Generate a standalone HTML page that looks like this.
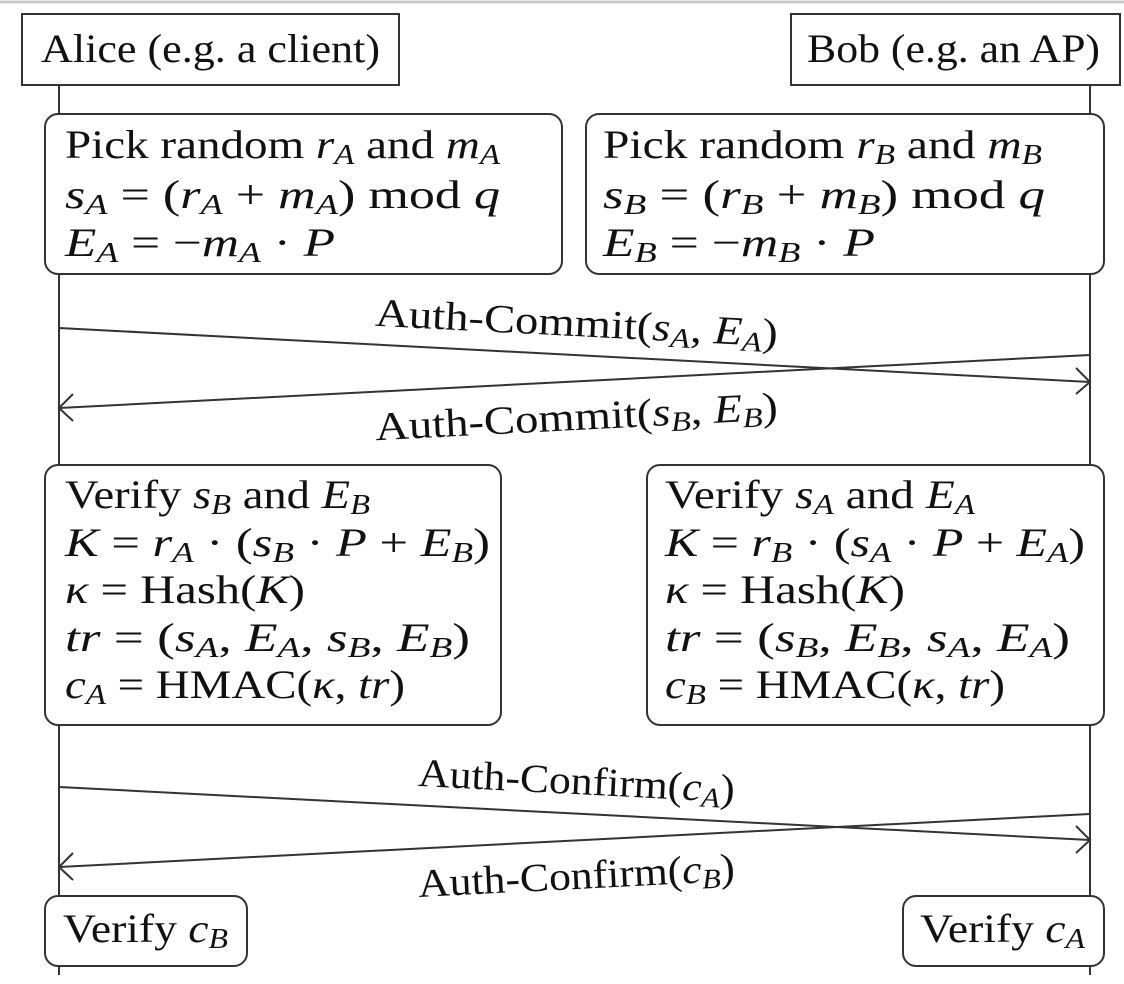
<!DOCTYPE html>
<html><head><meta charset="utf-8"><style>
html,body{margin:0;padding:0;background:#fff;width:1124px;height:984px;overflow:hidden}
svg{display:block}
text{font-family:"Liberation Serif",serif;font-size:40px;fill:#111}
.i{font-style:italic}
</style></head><body>
<svg width="1124" height="984" viewBox="0 0 1124 984">
<line x1="0" y1="2" x2="1124" y2="2" stroke="#ccc" stroke-width="3"/>
<g stroke="#333" stroke-width="2" fill="none">
<line x1="59" y1="85" x2="59" y2="975"/>
<line x1="1090" y1="85" x2="1090" y2="975"/>
</g>
<g stroke="#333" stroke-width="2" fill="#fff">
<rect x="22" y="14" width="377" height="71"/>
<rect x="791" y="14" width="329" height="71"/>
<rect x="45" y="114" width="517" height="160" rx="13"/>
<rect x="586" y="114" width="518" height="160" rx="13"/>
<rect x="45" y="465" width="456" height="260" rx="13"/>
<rect x="647" y="465" width="457" height="260" rx="13"/>
<rect x="45" y="896" width="202" height="70" rx="13"/>
<rect x="903" y="896" width="201" height="70" rx="13"/>
</g>
<text x="41" y="62" textLength="339" lengthAdjust="spacingAndGlyphs">Alice (e.g. a client)</text>
<text x="807" y="62" textLength="293" lengthAdjust="spacingAndGlyphs">Bob (e.g. an AP)</text>

<g>
<text x="65" y="158" textLength="435" lengthAdjust="spacingAndGlyphs">Pick random <tspan class="i">r</tspan><tspan class="i" font-size="28" dy="6">A</tspan><tspan dy="-6"> and </tspan><tspan class="i">m</tspan><tspan class="i" font-size="28" dy="6">A</tspan></text>
<text x="65" y="208" textLength="435" lengthAdjust="spacingAndGlyphs"><tspan class="i">s</tspan><tspan class="i" font-size="28" dy="6">A</tspan><tspan dy="-6"> = (</tspan><tspan class="i">r</tspan><tspan class="i" font-size="28" dy="6">A</tspan><tspan dy="-6"> + </tspan><tspan class="i">m</tspan><tspan class="i" font-size="28" dy="6">A</tspan><tspan dy="-6">) mod </tspan><tspan class="i">q</tspan></text>
<text x="65" y="256" textLength="270" lengthAdjust="spacingAndGlyphs"><tspan class="i">E</tspan><tspan class="i" font-size="28" dy="6">A</tspan><tspan dy="-6"> = −</tspan><tspan class="i">m</tspan><tspan class="i" font-size="28" dy="6">A</tspan><tspan dy="-6"> · </tspan><tspan class="i">P</tspan></text>
</g>
<g>
<text x="603" y="158" textLength="439" lengthAdjust="spacingAndGlyphs">Pick random <tspan class="i">r</tspan><tspan class="i" font-size="28" dy="6">B</tspan><tspan dy="-6"> and </tspan><tspan class="i">m</tspan><tspan class="i" font-size="28" dy="6">B</tspan></text>
<text x="603" y="208" textLength="442" lengthAdjust="spacingAndGlyphs"><tspan class="i">s</tspan><tspan class="i" font-size="28" dy="6">B</tspan><tspan dy="-6"> = (</tspan><tspan class="i">r</tspan><tspan class="i" font-size="28" dy="6">B</tspan><tspan dy="-6"> + </tspan><tspan class="i">m</tspan><tspan class="i" font-size="28" dy="6">B</tspan><tspan dy="-6">) mod </tspan><tspan class="i">q</tspan></text>
<text x="603" y="256" textLength="272" lengthAdjust="spacingAndGlyphs"><tspan class="i">E</tspan><tspan class="i" font-size="28" dy="6">B</tspan><tspan dy="-6"> = −</tspan><tspan class="i">m</tspan><tspan class="i" font-size="28" dy="6">B</tspan><tspan dy="-6"> · </tspan><tspan class="i">P</tspan></text>
</g>

<g stroke="#333" stroke-width="2" fill="none">
<line x1="59" y1="328" x2="1090" y2="382"/>
<polyline points="1076,368 1090,382 1076,394"/>
<line x1="1090" y1="355" x2="59" y2="408"/>
<polyline points="73,394 59,408 73,421"/>
<line x1="59" y1="787" x2="1090" y2="840"/>
<polyline points="1076,826 1090,840 1076,853"/>
<line x1="1090" y1="814" x2="59" y2="867"/>
<polyline points="73,853 59,867 73,880"/>
</g>
<text x="375" y="336" textLength="403" lengthAdjust="spacingAndGlyphs" transform="rotate(2.94 575 325)">Auth-Commit(<tspan class="i">s</tspan><tspan class="i" font-size="28" dy="6">A</tspan><tspan dy="-6">, </tspan><tspan class="i">E</tspan><tspan class="i" font-size="28" dy="6">A</tspan><tspan dy="-6">)</tspan></text>
<text x="375" y="430" textLength="403" lengthAdjust="spacingAndGlyphs" transform="rotate(-2.94 575 420)">Auth-Commit(<tspan class="i">s</tspan><tspan class="i" font-size="28" dy="6">B</tspan><tspan dy="-6">, </tspan><tspan class="i">E</tspan><tspan class="i" font-size="28" dy="6">B</tspan><tspan dy="-6">)</tspan></text>
<text x="418" y="794" textLength="317" lengthAdjust="spacingAndGlyphs" transform="rotate(2.94 575 783)">Auth-Confirm(<tspan class="i">c</tspan><tspan class="i" font-size="28" dy="6">A</tspan><tspan dy="-6">)</tspan></text>
<text x="418" y="889" textLength="317" lengthAdjust="spacingAndGlyphs" transform="rotate(-2.94 575 878)">Auth-Confirm(<tspan class="i">c</tspan><tspan class="i" font-size="28" dy="6">B</tspan><tspan dy="-6">)</tspan></text>

<g>
<text x="65" y="508" textLength="305" lengthAdjust="spacingAndGlyphs">Verify <tspan class="i">s</tspan><tspan class="i" font-size="28" dy="6">B</tspan><tspan dy="-6"> and </tspan><tspan class="i">E</tspan><tspan class="i" font-size="28" dy="6">B</tspan></text>
<text x="65" y="556" textLength="425" lengthAdjust="spacingAndGlyphs"><tspan class="i">K</tspan> = <tspan class="i">r</tspan><tspan class="i" font-size="28" dy="6">A</tspan><tspan dy="-6"> · (</tspan><tspan class="i">s</tspan><tspan class="i" font-size="28" dy="6">B</tspan><tspan dy="-6"> · </tspan><tspan class="i">P</tspan> + <tspan class="i">E</tspan><tspan class="i" font-size="28" dy="6">B</tspan><tspan dy="-6">)</tspan></text>
<text x="65" y="603" textLength="240" lengthAdjust="spacingAndGlyphs"><tspan class="i">κ</tspan> = Hash(<tspan class="i">K</tspan>)</text>
<text x="65" y="651" textLength="405" lengthAdjust="spacingAndGlyphs"><tspan class="i">tr</tspan> = (<tspan class="i">s</tspan><tspan class="i" font-size="28" dy="6">A</tspan><tspan dy="-6">, </tspan><tspan class="i">E</tspan><tspan class="i" font-size="28" dy="6">A</tspan><tspan dy="-6">, </tspan><tspan class="i">s</tspan><tspan class="i" font-size="28" dy="6">B</tspan><tspan dy="-6">, </tspan><tspan class="i">E</tspan><tspan class="i" font-size="28" dy="6">B</tspan><tspan dy="-6">)</tspan></text>
<text x="65" y="698" textLength="340" lengthAdjust="spacingAndGlyphs"><tspan class="i">c</tspan><tspan class="i" font-size="28" dy="6">A</tspan><tspan dy="-6"> = HMAC(</tspan><tspan class="i">κ</tspan>, <tspan class="i">tr</tspan>)</text>
</g>
<g>
<text x="665" y="508" textLength="310" lengthAdjust="spacingAndGlyphs">Verify <tspan class="i">s</tspan><tspan class="i" font-size="28" dy="6">A</tspan><tspan dy="-6"> and </tspan><tspan class="i">E</tspan><tspan class="i" font-size="28" dy="6">A</tspan></text>
<text x="665" y="556" textLength="420" lengthAdjust="spacingAndGlyphs"><tspan class="i">K</tspan> = <tspan class="i">r</tspan><tspan class="i" font-size="28" dy="6">B</tspan><tspan dy="-6"> · (</tspan><tspan class="i">s</tspan><tspan class="i" font-size="28" dy="6">A</tspan><tspan dy="-6"> · </tspan><tspan class="i">P</tspan> + <tspan class="i">E</tspan><tspan class="i" font-size="28" dy="6">A</tspan><tspan dy="-6">)</tspan></text>
<text x="665" y="603" textLength="240" lengthAdjust="spacingAndGlyphs"><tspan class="i">κ</tspan> = Hash(<tspan class="i">K</tspan>)</text>
<text x="665" y="651" textLength="405" lengthAdjust="spacingAndGlyphs"><tspan class="i">tr</tspan> = (<tspan class="i">s</tspan><tspan class="i" font-size="28" dy="6">B</tspan><tspan dy="-6">, </tspan><tspan class="i">E</tspan><tspan class="i" font-size="28" dy="6">B</tspan><tspan dy="-6">, </tspan><tspan class="i">s</tspan><tspan class="i" font-size="28" dy="6">A</tspan><tspan dy="-6">, </tspan><tspan class="i">E</tspan><tspan class="i" font-size="28" dy="6">A</tspan><tspan dy="-6">)</tspan></text>
<text x="665" y="698" textLength="340" lengthAdjust="spacingAndGlyphs"><tspan class="i">c</tspan><tspan class="i" font-size="28" dy="6">B</tspan><tspan dy="-6"> = HMAC(</tspan><tspan class="i">κ</tspan>, <tspan class="i">tr</tspan>)</text>
</g>
<text x="63" y="942" textLength="165" lengthAdjust="spacingAndGlyphs">Verify <tspan class="i">c</tspan><tspan class="i" font-size="28" dy="6">B</tspan></text>
<text x="920" y="942" textLength="165" lengthAdjust="spacingAndGlyphs">Verify <tspan class="i">c</tspan><tspan class="i" font-size="28" dy="6">A</tspan></text>
</svg>
</body></html>
